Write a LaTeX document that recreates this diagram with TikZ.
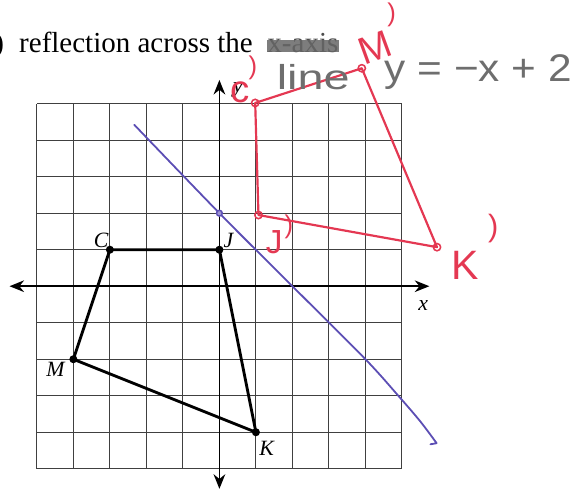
\documentclass[tikz,border=0pt]{standalone}
\usepackage{fontspec}
\setmainfont{Liberation Serif}
\newfontfamily\handfont{Liberation Sans}
\usetikzlibrary{arrows.meta}
\usetikzlibrary{positioning}
\definecolor{penred}{RGB}{228,56,82}
\definecolor{penblue}{RGB}{92,78,180}
\definecolor{pencil}{RGB}{110,110,110}

\begin{document}
\begin{tikzpicture}[
  gridline/.style={line width=0.7pt, black!75},
  axisline/.style={{Stealth[length=4mm,width=3.2mm]}-{Stealth[length=4mm,width=3.2mm]}, line width=1.2pt},
  shapeline/.style={line width=2.2pt, line join=round},
  imageline/.style={line width=1.7pt, penred, line join=round},
  vertexlabel/.style={font=\fontsize{17}{17}\selectfont\itshape, inner sep=1pt},
  handred/.style={font=\handfont\fontsize{#1}{#1}\selectfont, text=penred, inner sep=0pt},
  handred/.default=26,
]
\useasboundingbox (-6.01,-5.67) rectangle (9.74,7.84);

\node[anchor=base east, font=\fontsize{22.6}{24}\selectfont, inner sep=0pt] (paren) at (-5.89,6.41) {)};
\node[anchor=base west, font=\fontsize{22.6}{24}\selectfont, inner sep=0pt] (title) at (-5.49,6.41) {reflection across the};
\node[anchor=base west, font=\fontsize{22.6}{24}\selectfont, text=black!70, inner sep=0pt] (xaxis) at (1.31,6.41) {x-axis};
\draw[line width=9pt, black!60, opacity=0.85] ([yshift=5pt]xaxis.base west) -- ([yshift=5pt]xaxis.base east);

\draw[gridline] (-5,-5) grid (5,5);
\draw[axisline] (-5.75,0) -- (5.75,0);
\draw[axisline] (0,-5.55) -- (0,5.65);
\node[vertexlabel] (xlab) at (5.58,-0.52) {x};
\node[vertexlabel] (ylab) at (0.51,5.37) {y};

\coordinate (C) at (-3,1);
\coordinate (J) at (0,1);
\coordinate (K) at (1,-4);
\coordinate (M) at (-4,-2);
\draw[shapeline] (C) -- (J) -- (K) -- (M) -- cycle;
\foreach \p in {C,J,K,M} \fill (\p) circle (0.11);
\node[vertexlabel, above left=0pt of C] (Clab) {C};
\node[vertexlabel, above right=0pt and 0.07cm of J] (Jlab) {J};
\node[vertexlabel, below left=0.04cm and 0.2cm of M] (Mlab) {M};
\node[vertexlabel, below right=0.2cm and 0.05cm of K] (Klab) {K};

\draw[penblue, line width=1.4pt, line cap=round, line join=round] plot[smooth] coordinates {(-2.33,4.42) (0,2) (2,0) (4,-2) (4.9,-3) (5.5,-3.7) (5.95,-4.3)} -- (5.78,-4.33);
\draw[penblue, fill=penblue!60, line width=1.1pt] (0,2) circle (0.08);

\coordinate (Cp) at (0.98,5.02);
\coordinate (Jp) at (1.07,1.95);
\coordinate (Kp) at (5.96,1.07);
\coordinate (Mp) at (3.9,5.97);
\draw[imageline] (Cp) -- (Jp) -- (Kp) -- (Mp) -- cycle;
\foreach \p in {Cp,Jp,Kp,Mp} \draw[penred, line width=1.2pt] (\p) circle (0.1);

\node[handred=30] (Cplab) at (0.58,5.3) {c};
\node[handred=20] at (0.92,5.98) {)};
\node[handred=30, rotate=20] (Mplab) at (4.25,6.55) {M};
\node[handred=20] at (4.72,7.42) {)};
\node[handred=26] (Jplab) at (1.5,1.2) {J};
\node[handred=20] at (1.9,1.62) {)};
\node[handred=32] (Kplab) at (6.73,0.58) {K};
\node[handred=24] at (7.5,1.59) {)};

\node[font=\handfont\fontsize{27}{27}\selectfont, text=pencil, xscale=1.35] (linelab) at (2.57,5.73) {line};
\node[font=\handfont\fontsize{30}{30}\selectfont, text=pencil, xscale=1.1] (eqlab) at (7.09,5.86) {y = −x + 2};
\end{tikzpicture}
\end{document}
